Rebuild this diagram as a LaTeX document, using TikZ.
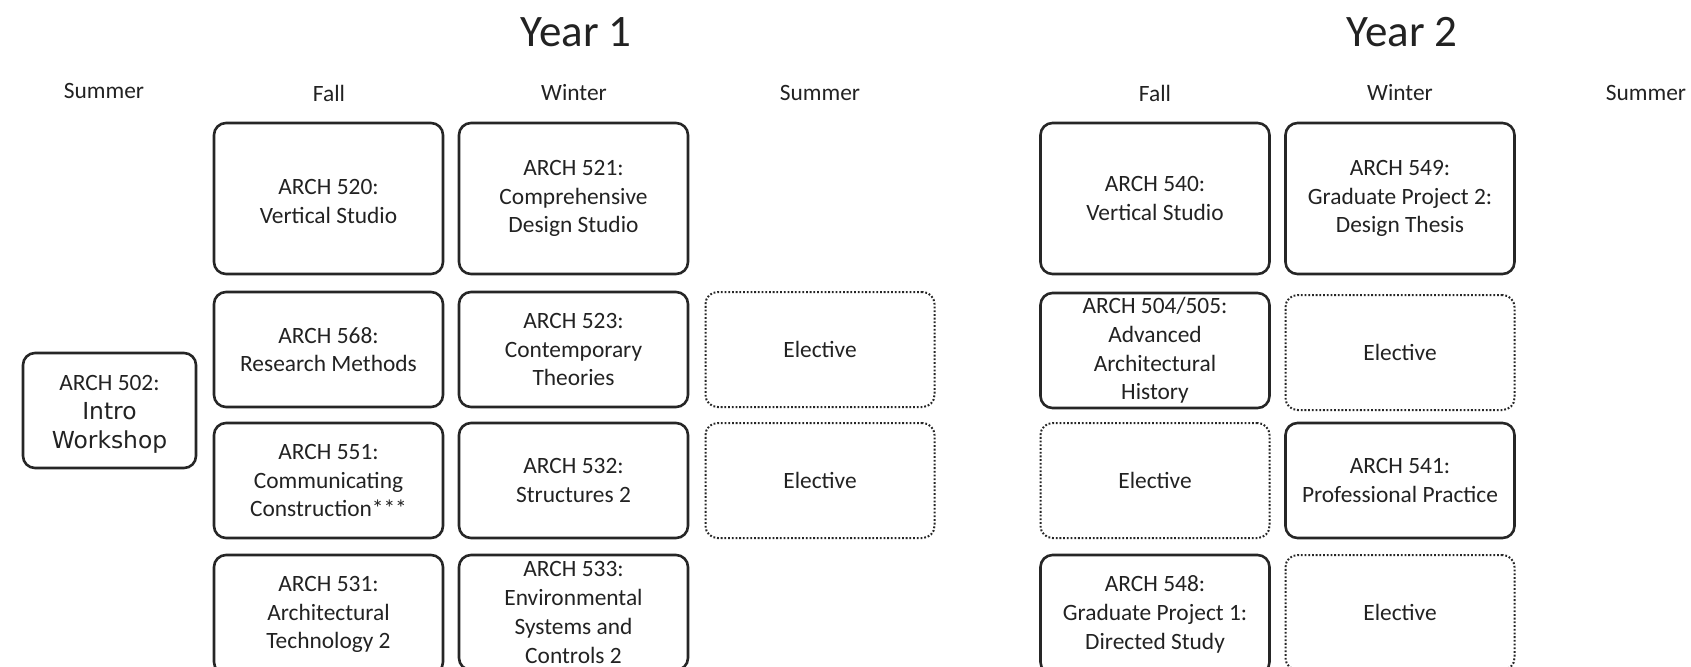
\documentclass[tikz,border=0pt]{standalone}
\usepackage{fontspec}
\setmainfont{Carlito}
\newfontfamily\introfont{DejaVu Sans}
\definecolor{plancolor0001}{RGB}{38,38,38}
\definecolor{plancolor0002}{RGB}{34,34,34}

\begin{document}
\begin{tikzpicture}[yscale=-1
            ,cstyle0/.style={draw=plancolor0001,rounded corners=6pt,line width=1.3pt,minimum width=114.5pt,minimum height=57.5pt,inner sep=0pt,align=center,text=plancolor0002,font=\fontsize{11.7pt}{14.4pt}\selectfont}
            ,cstyle1/.style={cstyle0,line width=1pt,dash pattern=on 0.9pt off 0.95pt}
            ,cstyle2/.style={cstyle0,minimum height=75.5pt}
            ,cstyle3/.style={cstyle0,minimum height=59.5pt}
            ,hstyle0/.style={text=plancolor0002,inner sep=0pt,font=\fontsize{11.7pt}{14.4pt}\selectfont}
            ,hstyle1/.style={text=plancolor0002,inner sep=0pt,font=\fontsize{22.5pt}{27pt}\selectfont}
        ]
        \useasboundingbox (0pt,0pt) rectangle (845.5pt,333pt);
        \clip (0pt,0pt) rectangle (845.5pt,333pt);
        % headings
        \node[hstyle1] (year1) at (288pt,16pt) {Year 1};
        \node[hstyle1] (year2) at (701pt,16pt) {Year 2};
        \node[hstyle0] (summer0) at (52pt,45.5pt) {Summer};
        \node[hstyle0] (fall1) at (164.5pt,46.5pt) {Fall};
        \node[hstyle0] (winter1) at (287pt,46.5pt) {Winter};
        \node[hstyle0] (summer1) at (410pt,46.5pt) {Summer};
        \node[hstyle0] (fall2) at (577.5pt,46.5pt) {Fall};
        \node[hstyle0] (winter2) at (700pt,46.5pt) {Winter};
        \node[hstyle0] (summer2) at (823pt,46.5pt) {Summer};
        % intro
        \node[cstyle0,minimum width=86.5pt] (arch502) at (54.75pt,205.25pt) {\rule{0pt}{11.5pt}ARCH 502:\\{\introfont Intro}\\{\introfont Workshop}};
        % year 1
        \node[cstyle2] (arch520) at (164.25pt,99.25pt) {\rule{0pt}{10.5pt}ARCH 520:\\Vertical Studio};
        \node[cstyle2] (arch521) at (286.75pt,99.25pt) {ARCH 521:\\Comprehensive\\Design Studio};
        \node[cstyle0] (arch568) at (164.25pt,174.75pt) {ARCH 568:\\Research Methods};
        \node[cstyle0] (arch523) at (286.75pt,174.75pt) {ARCH 523:\\Contemporary\\Theories};
        \node[cstyle1] (elect1) at (410pt,174.75pt) {Elective};
        \node[cstyle0] (arch551) at (164.25pt,240.25pt) {ARCH 551:\\Communicating\\Construction***};
        \node[cstyle0] (arch532) at (286.75pt,240.25pt) {ARCH 532:\\Structures 2};
        \node[cstyle1] (elect2) at (410pt,240.25pt) {Elective};
        \node[cstyle3] (arch531) at (164.25pt,307.25pt) {ARCH 531:\\Architectural\\Technology 2};
        \node[cstyle0] (arch533) at (286.75pt,306.25pt) {ARCH 533:\\Environmental\\Systems and\\Controls 2};
        % year 2
        \node[cstyle2] (arch540) at (577.5pt,99.25pt) {ARCH 540:\\Vertical Studio};
        \node[cstyle2] (arch549) at (700pt,99.25pt) {ARCH 549:\\Graduate Project 2:\\Design Thesis};
        \node[cstyle0] (arch504) at (577.5pt,175.25pt) {ARCH 504/505:\\Advanced\\Architectural\\History};
        \node[cstyle1] (elect3) at (700pt,176.25pt) {Elective};
        \node[cstyle1] (elect4) at (577.5pt,240.25pt) {Elective};
        \node[cstyle0] (arch541) at (700pt,240.25pt) {ARCH 541:\\Professional Practice};
        \node[cstyle3] (arch548) at (577.5pt,307.25pt) {ARCH 548:\\Graduate Project 1:\\Directed Study};
        \node[cstyle1] (elect5) at (700pt,306.25pt) {Elective};
    \end{tikzpicture}
\end{document}
